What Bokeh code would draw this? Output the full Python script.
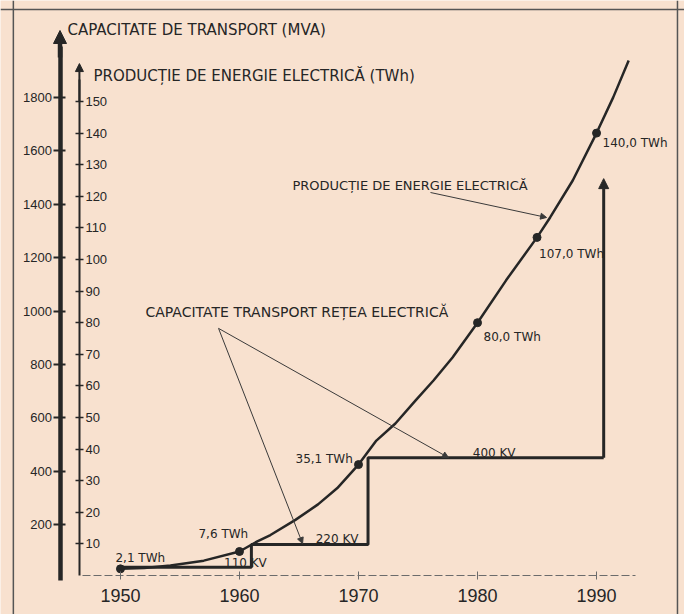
from bokeh.plotting import figure
from bokeh.models import (LinearAxis, Range1d, FixedTicker, Arrow, NormalHead,
                          Span, ColumnDataSource, Label)
from bokeh.core.properties import value
from bokeh.embed import file_html
from bokeh.resources import INLINE

# ---------------- data ----------------
year_ticks = [1950, 1960, 1970, 1980, 1990]
twh_ticks = [10, 20, 30, 40, 50, 60, 70, 80, 90, 100, 110, 120, 130, 140, 150]
mva_ticks = [200, 400, 600, 800, 1000, 1200, 1400, 1600, 1800]

point_years = [1950, 1960, 1970, 1980, 1985, 1990]
point_twh = [2.1, 7.6, 35.1, 80.0, 107.0, 140.0]
point_labels = ["2,1 TWh", "7,6 TWh", "35,1 TWh", "80,0 TWh", "107,0 TWh", "140,0 TWh"]

curve_years = [1950, 1952, 1954.2, 1957.0, 1960, 1961.5, 1962.6, 1964.7, 1966.6, 1968.2,
               1970, 1971.5, 1973.1, 1974.8, 1976.3, 1977.9, 1980, 1982.4, 1985,
               1986.1, 1988.0, 1990, 1991.4, 1992.7]
curve_twh = [2.1, 2.4, 3.2, 4.7, 7.6, 10.8, 12.8, 17.6, 22.5, 27.6,
             35.1, 42.7, 48.1, 55.4, 61.7, 69.0, 80.0, 93.4, 107.0,
             113.3, 125.0, 140.0, 151.3, 163.0]

step_years = [1950, 1961, 1961, 1970.8, 1970.8, 1990.6]
step_mva = [40, 40, 125, 125, 450, 450]
step_arrow_top_mva = 1496

voltage_labels = ["110   KV", "220 KV", "400 KV"]

# ---------------- styles ----------------
INK = "#262626"
PAPER = "#f8e1cf"
TICKF = "Liberation Sans"
SANS = "DejaVu Sans"

p = figure(width=684, height=614,
           x_range=Range1d(1939.92, 1997.39), y_range=Range1d(-12.34, 181.96),
           x_axis_location=None, y_axis_location=None,
           toolbar_location=None, output_backend="svg",
           min_border_left=0, min_border_right=0, min_border_top=0, min_border_bottom=0)
p.extra_y_ranges = {"mva": Range1d(-137.1, 2163.4)}
p.background_fill_color = PAPER
p.border_fill_color = PAPER
p.outline_line_color = None
for g in p.grid:
    g.visible = False

# border of the scanned page
p.add_layout(Span(location=1941.0, dimension="height", line_color="#555555", line_width=1.5))
p.add_layout(Span(location=1996.8, dimension="height", line_color="#555555", line_width=1.5))
p.add_layout(Span(location=179.1, dimension="width", line_color="#555555", line_width=1.5))

# x axis
xaxis = LinearAxis(fixed_location=0, ticker=FixedTicker(ticks=year_ticks),
                   bounds=(1946.8, 1993.3))
xaxis.axis_line_color = "#6b6b6b"
xaxis.axis_line_width = 1
xaxis.axis_line_dash = "8 3"
xaxis.major_tick_in = 4
xaxis.major_tick_out = 4
xaxis.major_tick_line_color = "#6b6b6b"
xaxis.minor_tick_line_color = None
xaxis.major_label_standoff = 9
xaxis.major_label_text_font = TICKF
xaxis.major_label_text_font_size = "18px"
xaxis.major_label_text_color = INK
p.add_layout(xaxis, "below")

# MVA axis (thick, labels left)
mva_axis = LinearAxis(y_range_name="mva", fixed_location=1944.92,
                      ticker=FixedTicker(ticks=mva_ticks), bounds=(-8, 1990))
mva_axis.axis_line_width = 4.5
mva_axis.axis_line_color = INK
mva_axis.major_tick_line_color = INK
mva_axis.major_tick_line_width = 2
mva_axis.major_tick_in = 5
mva_axis.major_tick_out = 7
mva_axis.minor_tick_line_color = None
mva_axis.major_label_standoff = 1
mva_axis.major_label_text_font = TICKF
mva_axis.major_label_text_font_size = "13px"
mva_axis.major_label_text_color = INK
p.add_layout(mva_axis, "left")
p.add_layout(Arrow(x_start=1944.92, y_start=1950, x_end=1944.92, y_end=2051,
                   y_range_name="mva", line_width=4.5, line_color=INK,
                   end=NormalHead(size=13, fill_color=INK, line_color=INK)))

# TWh axis (thin, labels right)
twh_axis = LinearAxis(fixed_location=1946.55, ticker=FixedTicker(ticks=twh_ticks),
                      bounds=(0, 157))
twh_axis.axis_line_width = 2
twh_axis.axis_line_color = INK
twh_axis.major_tick_line_color = INK
twh_axis.major_tick_line_width = 1.5
twh_axis.major_tick_in = 4
twh_axis.major_tick_out = 4
twh_axis.minor_tick_line_color = None
twh_axis.major_label_standoff = 2
twh_axis.major_label_text_font = TICKF
twh_axis.major_label_text_font_size = "13px"
twh_axis.major_label_text_color = INK
p.add_layout(twh_axis, "right")
p.add_layout(Arrow(x_start=1946.55, y_start=150, x_end=1946.55, y_end=162,
                   line_width=2, line_color=INK,
                   end=NormalHead(size=8, fill_color=INK, line_color=INK)))

# capacity step line
p.line(step_years, step_mva, y_range_name="mva", line_width=3, line_color=INK)
p.add_layout(Arrow(x_start=step_years[-1], y_start=step_mva[-1], x_end=step_years[-1],
                   y_end=step_arrow_top_mva, y_range_name="mva", line_width=3,
                   line_color=INK, end=NormalHead(size=10, fill_color=INK, line_color=INK)))

# energy curve
p.line(curve_years, curve_twh, line_width=2.5, line_color=INK, line_join="round")
src = ColumnDataSource(dict(x=point_years, y=point_twh, t=point_labels,
                            dx=[-5, -41, -63, 6, 2, 6], dy=[-11, -17, -6, 14, 17, 10]))
p.scatter("x", "y", source=src, size=8, fill_color=INK, line_color=INK)
p.text("x", "y", text="t", source=src, x_offset="dx", y_offset="dy",
       text_font=value(SANS), text_font_size="12px", text_color=INK,
       text_baseline="alphabetic")

# voltage labels
vsrc = ColumnDataSource(dict(x=[1958.7, 1966.4, 1979.6], y=[3.8, 11.7, 38.9], t=voltage_labels))
p.text("x", "y", text="t", source=vsrc, text_font=value(SANS), text_font_size="12px",
       text_color=INK, text_baseline="alphabetic")

# titles and callouts
def lab(x, y, t, size):
    p.add_layout(Label(x=x, y=y, text=t, text_font=SANS, text_font_size=size,
                       text_color=INK, text_baseline="alphabetic"))

lab(1945.55, 172.5, "CAPACITATE DE TRANSPORT  (MVA)", "15px")
lab(1947.73, 158.2, "PRODUCȚIE DE ENERGIE ELECTRICĂ  (TWh)", "15px")
lab(1952.1, 83.5, "CAPACITATE TRANSPORT REȚEA ELECTRICĂ", "14px")
lab(1964.45, 123.4, "PRODUCȚIE DE ENERGIE ELECTRICĂ", "13px")

for (x0, y0, x1, y1) in [(1958.24, 78.2, 1965.3, 10.1),
                         (1958.24, 78.2, 1977.56, 37.3),
                         (1976.05, 121.2, 1985.8, 113.3)]:
    p.add_layout(Arrow(x_start=x0, y_start=y0, x_end=x1, y_end=y1, line_width=1,
                       line_color="#3a3a3a",
                       end=NormalHead(size=6, fill_color="#3a3a3a", line_color="#3a3a3a")))

open("out.html", "w").write(file_html(p, INLINE))
